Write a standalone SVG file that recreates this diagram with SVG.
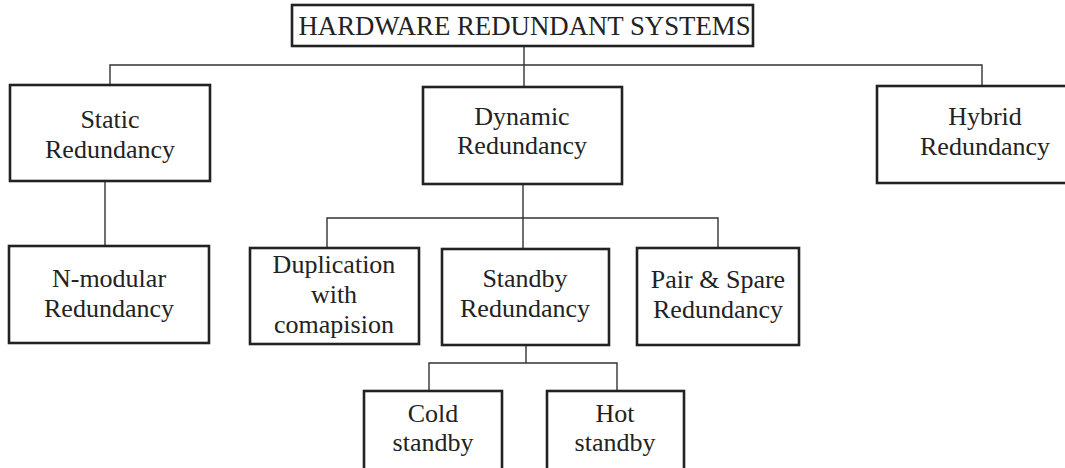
<svg xmlns="http://www.w3.org/2000/svg" width="1065" height="468" viewBox="0 0 1065 468">
<style>
.box{fill:#fff;stroke:#222;stroke-width:2.6}
.c{fill:none;stroke:#333;stroke-width:1.4}
text{font-family:"Liberation Serif","Times New Roman",serif;font-size:26px;fill:#222;text-anchor:middle}
.title{font-size:26.8px}
</style>
<rect width="1065" height="468" fill="#fff"/>
<g id="connectors">
<path class="c" d="M524,46 V87 M110,85 V65 H982 V86"/>
<path class="c" d="M105,181 V246"/>
<path class="c" d="M523,184 V249 M327,248 V218 H718 V248"/>
<path class="c" d="M526,345 V363 M429,391 V363 H617 V391"/>
</g>
<g id="root"><rect class="box" x="292" y="5" width="461" height="41"/><text class="title" x="524.5" y="35">HARDWARE REDUNDANT SYSTEMS</text></g>
<g id="static"><rect class="box" x="10" y="85" width="200" height="96"/><text x="110" y="128">Static</text><text x="110" y="158">Redundancy</text></g>
<g id="dynamic"><rect class="box" x="423" y="87" width="199" height="97"/><text x="522" y="125">Dynamic</text><text x="522" y="154">Redundancy</text></g>
<g id="hybrid"><rect class="box" x="877" y="86" width="220" height="97"/><text x="985" y="125">Hybrid</text><text x="985" y="155">Redundancy</text></g>
<g id="nmodular"><rect class="box" x="9" y="246" width="200" height="97"/><text x="109" y="287">N-modular</text><text x="109" y="317">Redundancy</text></g>
<g id="duplication"><rect class="box" x="250" y="248" width="169" height="96"/><text x="334" y="273">Duplication</text><text x="334" y="303">with</text><text x="334" y="333">comapision</text></g>
<g id="standby"><rect class="box" x="442" y="249" width="167" height="96"/><text x="525" y="287">Standby</text><text x="525" y="317">Redundancy</text></g>
<g id="pairspare"><rect class="box" x="637" y="248" width="162" height="97"/><text x="718" y="288">Pair &amp; Spare</text><text x="718" y="318">Redundancy</text></g>
<g id="cold"><rect class="box" x="364" y="391" width="138" height="100"/><text x="433" y="422">Cold</text><text x="433" y="451">standby</text></g>
<g id="hot"><rect class="box" x="547" y="391" width="137" height="100"/><text x="615" y="422">Hot</text><text x="615" y="451">standby</text></g>
</svg>
